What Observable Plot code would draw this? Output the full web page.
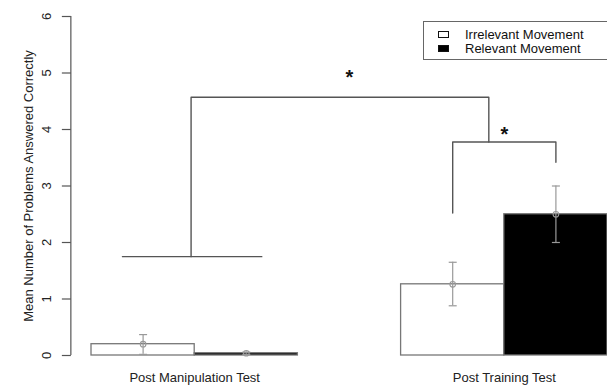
<!DOCTYPE html>
<html>
<head>
<meta charset="utf-8">
<script src="https://cdn.jsdelivr.net/npm/d3@7"></script>
<script src="https://cdn.jsdelivr.net/npm/@observablehq/plot@0.6"></script>
<style>
  html, body { margin: 0; padding: 0; background: #fff; }
  #wrap { position: relative; width: 607px; height: 386px; overflow: hidden; font-family: "Liberation Sans", Arial, sans-serif; }
  #legend { position: absolute; left: 423px; top: 21px; width: 200px; height: 39px; border: 1.3px solid #666; box-sizing: border-box; background: #fff; }
  .item { position: absolute; left: 14px; height: 14px; font-size: 13px; line-height: 14px; color: #111; }
  .sw { position: absolute; left: 0; top: 3px; width: 11px; height: 7px; box-sizing: border-box; border: 1px solid #111; }
  .lab { position: absolute; left: 27px; top: 0; white-space: nowrap; }
</style>
</head>
<body>
<div id="wrap"><div id="chart"></div><div id="legend"></div></div>
<script>
// ---- data ----
const groups = ["Post Manipulation Test", "Post Training Test"];
const series = ["Irrelevant Movement", "Relevant Movement"];
const seriesFill = ["#ffffff", "#000000"];
const irrelevantMean = [0.20, 1.26];
const irrelevantLo   = [0.02, 0.88];
const irrelevantHi   = [0.37, 1.65];
const relevantMean   = [0.04, 2.50];
const relevantLo     = [0.02, 2.00];
const relevantHi     = [0.06, 3.00];
const yTicks = [0, 1, 2, 3, 4, 5, 6];
const yTitle = "Mean Number of Problems Answered Correctly";
// significance brackets (bar-unit x, value y)
const bracketBigX = [1.965, 1.965, 4.85, 4.85];
const bracketBigY = [1.75, 4.57, 4.57, 3.78];
const bracketBaseX = [1.3, 2.65];
const bracketBaseY = [1.75, 1.75];
const bracketSmallX = [4.5, 4.5, 5.5, 5.5];
const bracketSmallY = [2.52, 3.78, 3.78, 3.42];
const starX = [3.5, 5.0];
const starY = [5.0, 4.0];

// ---- build table (R barplot beside=TRUE layout: width 1, space c(0,1)) ----
const means = [irrelevantMean, relevantMean];
const los = [irrelevantLo, relevantLo];
const his = [irrelevantHi, relevantHi];
const bars = [];
groups.forEach((g, gi) => series.forEach((s, si) => {
  const x1 = 1 + gi * 3 + si;
  bars.push({group: g, series: s, x1, x2: x1 + 1, xc: x1 + 0.5,
    mean: means[si][gi], lo: los[si][gi], hi: his[si][gi], fill: seriesFill[si]});
}));
const groupCenters = groups.map((g, gi) => ({label: g, x: 2 + gi * 3}));
const xMin = d3.min(bars, d => d.x1), xMax = d3.max(bars, d => d.x2);
const xRange = [91, 607];
const pxPerUnit = (xRange[1] - xRange[0]) / (xMax - xMin);
const axisX = xMin - 0.04 * (xMax - xMin);
const tickLen = 9 / pxPerUnit;
const capHalf = 4 / pxPerUnit;
const toPts = (xs, ys) => xs.map((x, i) => ({x, y: ys[i]}));

const chart = Plot.plot({
  width: 607, height: 386,
  marginLeft: 70, marginRight: 0, marginTop: 16, marginBottom: 31,
  x: {type: "linear", domain: [xMin, xMax], range: xRange, axis: null},
  y: {domain: [d3.min(yTicks), d3.max(yTicks)], axis: null},
  style: {fontFamily: "'Liberation Sans', Arial, sans-serif", fontSize: "13px", background: "#fff"},
  marks: [
    Plot.rect(bars, {x1: "x1", x2: "x2", y1: 0, y2: "mean", fill: "fill", stroke: "#777", strokeWidth: 1.3}),
    Plot.ruleX(bars, {x: "xc", y1: "lo", y2: "hi", stroke: "#999", strokeWidth: 1.2}),
    Plot.link(bars, {x1: d => d.xc - capHalf, x2: d => d.xc + capHalf, y1: "lo", y2: "lo", stroke: "#999", strokeWidth: 1.2}),
    Plot.link(bars, {x1: d => d.xc - capHalf, x2: d => d.xc + capHalf, y1: "hi", y2: "hi", stroke: "#999", strokeWidth: 1.2}),
    Plot.dot(bars, {x: "xc", y: "mean", r: 2.8, stroke: "#999", strokeWidth: 1.1, fill: "none"}),
    // y axis
    Plot.ruleX([axisX], {y1: d3.min(yTicks), y2: d3.max(yTicks), stroke: "#555", strokeWidth: 1.2}),
    Plot.link(yTicks, {x1: axisX - tickLen, x2: axisX, y1: d => d, y2: d => d, stroke: "#555", strokeWidth: 1.2}),
    Plot.text(yTicks, {x: axisX, y: d => d, text: d => String(d), rotate: -90, dx: -24, fill: "#222", fontSize: 13}),
    Plot.text([yTitle], {x: axisX, y: d3.mean(d3.extent(yTicks)), text: d => d, rotate: -90, dx: -42, fill: "#222", fontSize: 13}),
    // group labels
    Plot.text(groupCenters, {x: "x", y: 0, text: "label", dy: 22, fill: "#222", fontSize: 13}),
    // significance brackets
    Plot.line(toPts(bracketBigX, bracketBigY), {x: "x", y: "y", stroke: "#555", strokeWidth: 1.4}),
    Plot.line(toPts(bracketBaseX, bracketBaseY), {x: "x", y: "y", stroke: "#555", strokeWidth: 1.4}),
    Plot.line(toPts(bracketSmallX, bracketSmallY), {x: "x", y: "y", stroke: "#555", strokeWidth: 1.4}),
    Plot.text(starX.map((x, i) => ({x, y: starY[i]})), {x: "x", y: "y", text: () => "*", fontSize: 20, fontWeight: "bold", fill: "#111", dy: 5})
  ]
});
document.getElementById("chart").appendChild(chart);

// legend
const leg = document.getElementById("legend");
series.forEach((s, i) => {
  const it = document.createElement("div");
  it.className = "item";
  it.style.top = (6 + i * 14) + "px";
  it.innerHTML = `<div class="sw" style="background:${seriesFill[i]}"></div><div class="lab"></div>`;
  it.querySelector(".lab").textContent = s;
  leg.appendChild(it);
});
</script>
</body>
</html>
